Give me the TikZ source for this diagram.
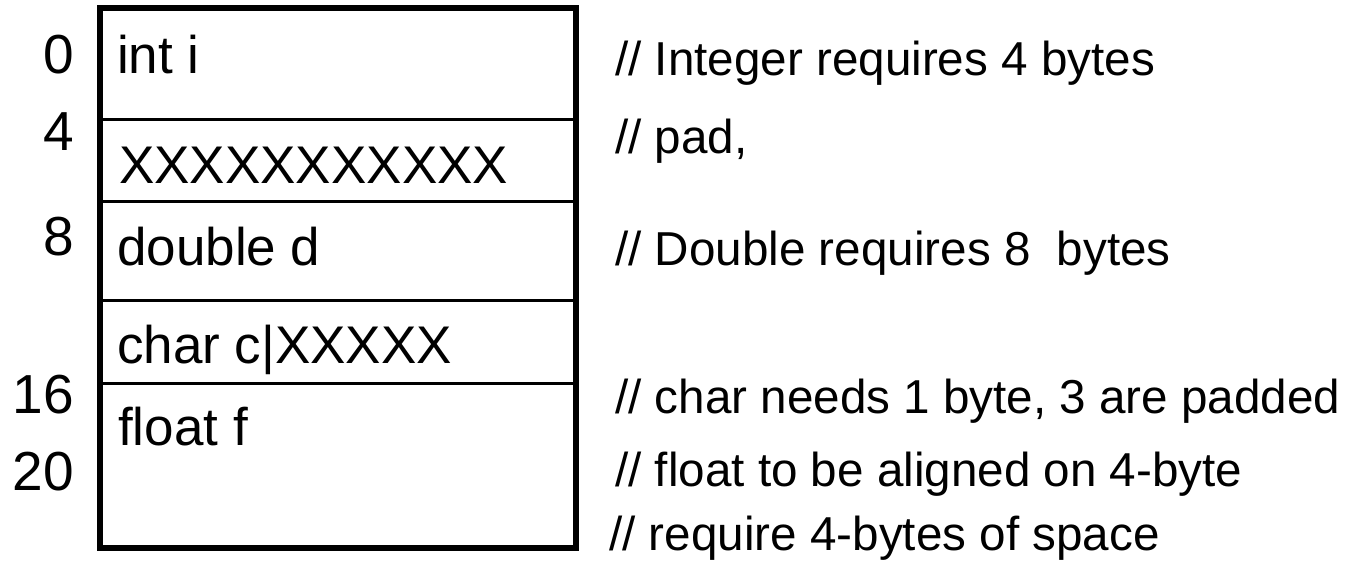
\documentclass[tikz,border=0pt]{standalone}
\usepackage{fontspec}
\setmainfont{Liberation Sans}
\begin{document}
\begin{tikzpicture}[x=1pt,y=-1pt,
  boxtext/.style={anchor=base west,inner sep=0pt,font=\fontsize{53}{60}\selectfont},
  offset/.style={anchor=base east,inner sep=0pt,font=\fontsize{55}{60}\selectfont},
  comment/.style={anchor=base west,inner sep=0pt,font=\fontsize{47.6}{56}\selectfont},
  frame/.style={draw=black,line width=6pt},
  divider/.style={draw=black,line width=2.5pt}]
\useasboundingbox (0,0) rectangle (1359,570);
% memory block
\coordinate (tl) at (99.7,8);
\coordinate (br) at (575.5,548);
\foreach \y/\n in {119.5/a,201.5/b,300.5/c,383.5/d}{
  \coordinate (L\n) at (99.7,\y);
  \coordinate (R\n) at (575.5,\y);
  \draw[divider] (L\n) -- (R\n);
}
\draw[frame] (tl) rectangle (br);
% cell texts
\node[boxtext] (ti) at (117,73) {int i};
\node[boxtext] (tx) at (119,183) {XXXXXXXXXXX};
\node[boxtext] (td) at (117,265) {double d};
\node[boxtext] (tc) at (117,363) {char c|XXXXX};
\node[boxtext] (tf) at (118,445) {float f};
% offsets
\node[offset] (o0) at (74,73) {0};
\node[offset] (o4) at (74,150) {4};
\node[offset] (o8) at (74,255) {8};
\node[offset] (o16) at (74,413) {16};
\node[offset] (o20) at (74,490) {20};
% comments
\node[comment] (c1) at (615,75) {// Integer requires 4 bytes};
\node[comment] (c2) at (615,153) {// pad,};
\node[comment] (c3) at (615,265) {// Double requires 8\ \ bytes};
\node[comment] (c4) at (615,413) {// char needs 1 byte, 3 are padded};
\node[comment] (c5) at (615,486) {// float to be aligned on 4-byte};
\node[comment] (c6) at (609,550) {// require 4-bytes of space};
\end{tikzpicture}
\end{document}
